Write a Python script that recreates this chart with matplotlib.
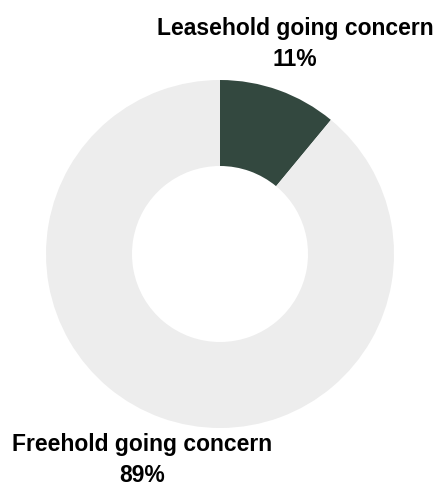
import matplotlib.pyplot as plt

# Share of property types
labels = ["Leasehold going concern", "Freehold going concern"]
shares = [11, 89]
colors = ["#33483f", "#ededed"]

fig = plt.figure(figsize=(4.4, 4.88), dpi=100)
ax = fig.add_axes([0, 0, 1, 1])

ax.pie(shares, colors=colors, startangle=90, counterclock=False,
       center=(220, 234), radius=174,
       wedgeprops=dict(width=86, linewidth=0))

ax.set_xlim(0, 440)
ax.set_ylim(0, 488)
ax.set_aspect("equal")
ax.axis("off")

font = dict(family=["Liberation Sans", "DejaVu Sans"], fontsize=16.5,
            fontweight="bold", color="#000000", ha="center", va="center",
            linespacing=1.45)
ax.text(295, 444, f"{labels[0]}\n{shares[0]}%", **font)
ax.text(142, 28, f"{labels[1]}\n{shares[1]}%", **font)

fig.savefig("out.png", dpi=100)
